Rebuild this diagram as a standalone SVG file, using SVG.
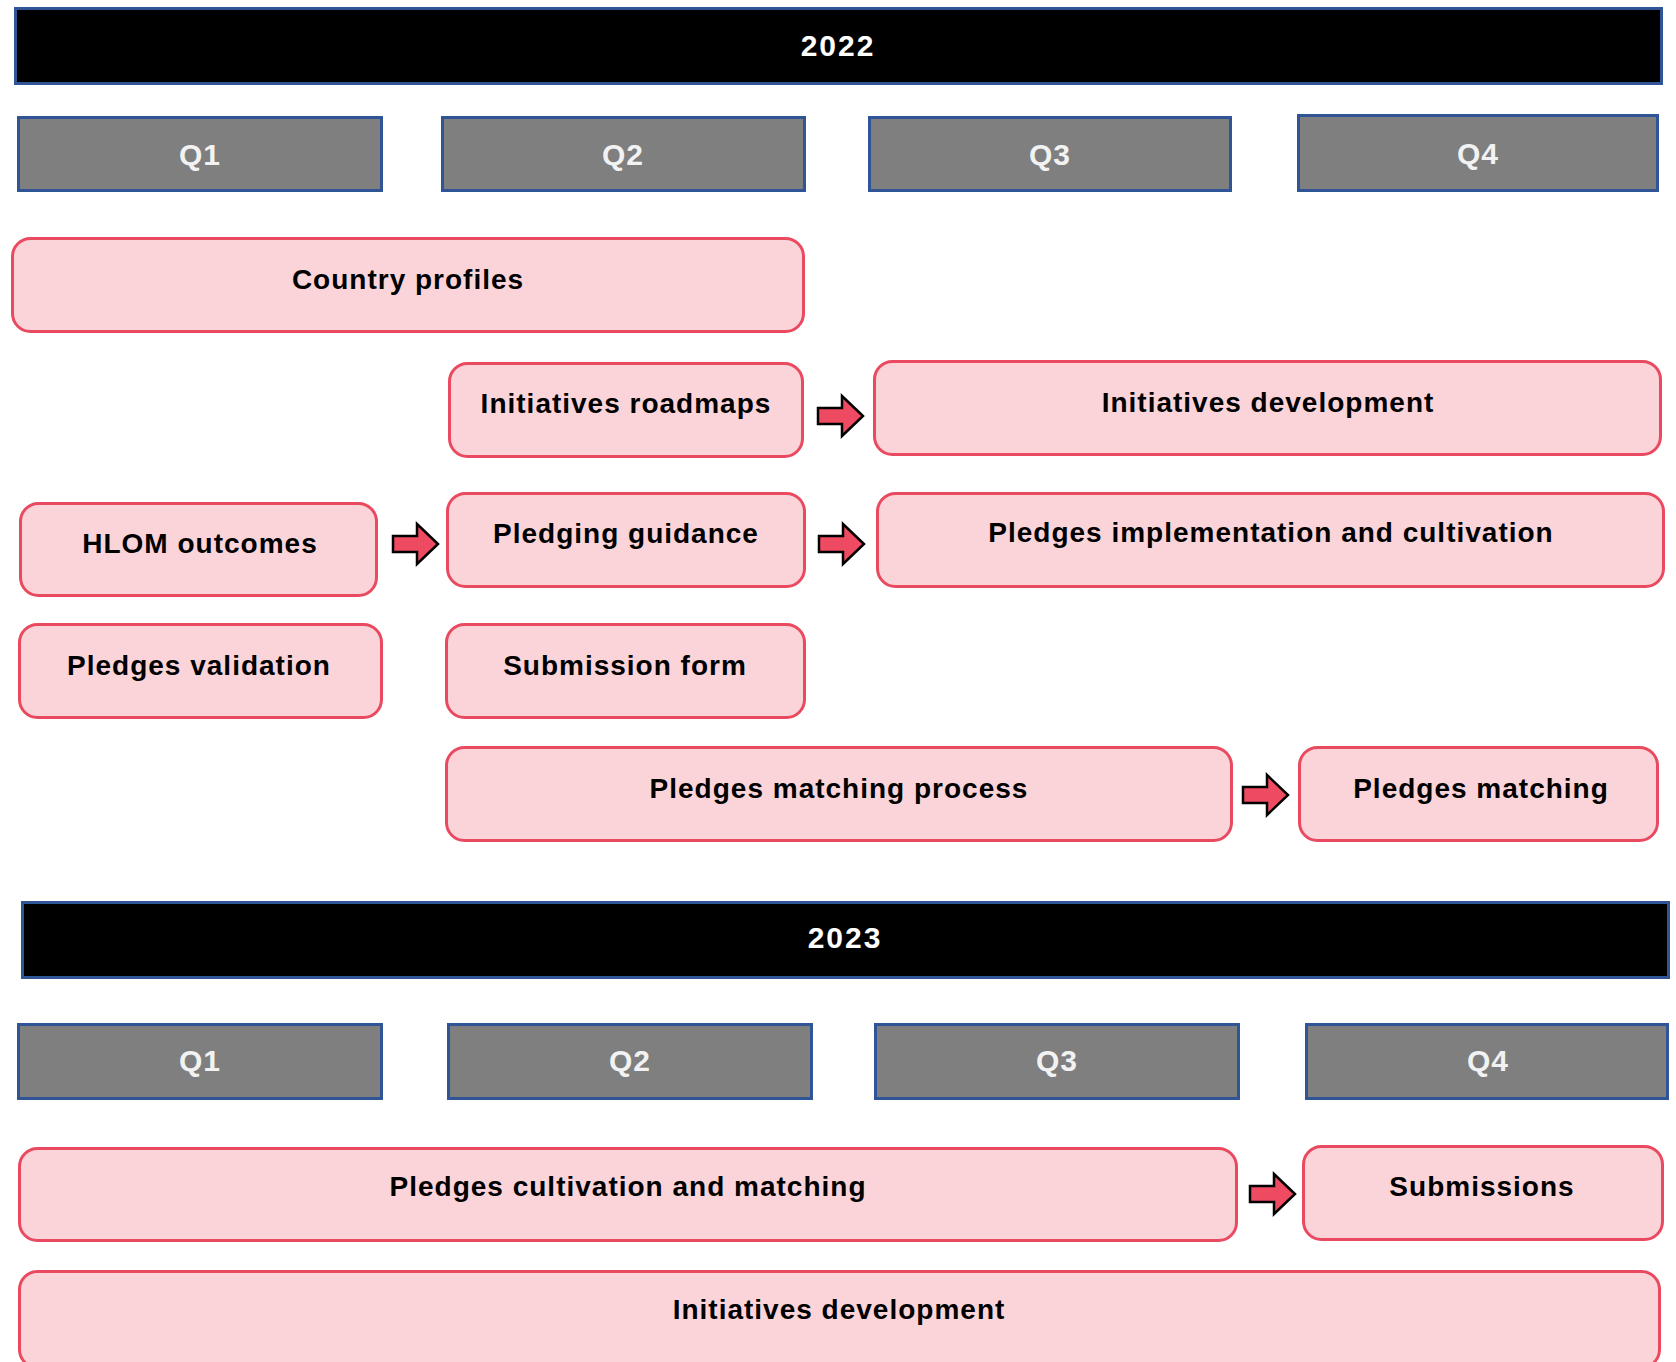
<svg xmlns="http://www.w3.org/2000/svg" xmlns:xlink="http://www.w3.org/1999/xlink" width="1676" height="1362" viewBox="0 0 1676 1362">
  <style>
    .year rect { fill: #000000; stroke: #2F5597; stroke-width: 3; }
    .year text { fill: #FFFFFF; font-family: "Liberation Sans", Arial, sans-serif; font-weight: bold; font-size: 30px; letter-spacing: 2px; text-anchor: middle; }
    .q rect { fill: #7F7F7F; stroke: #2F5597; stroke-width: 3; }
    .q text { fill: #F2F2F2; font-family: "Liberation Sans", Arial, sans-serif; font-weight: bold; font-size: 30px; letter-spacing: 1px; text-anchor: middle; }
    .task rect { fill: #FAD4D9; stroke: #EA4A60; stroke-width: 3; }
    .task text { fill: #000000; font-family: "Liberation Sans", Arial, sans-serif; font-weight: bold; font-size: 28px; letter-spacing: 1px; text-anchor: middle; }
    .arrow { fill: #EE4B62; stroke: #000000; stroke-width: 2.5; stroke-linejoin: miter; }
  </style>
  <defs>
    <path id="blockArrow" class="arrow" d="M0,-8 L24,-8 L24,-20 L45,0 L24,20 L24,8 L0,8 Z"/>
  </defs>
  <rect width="1676" height="1362" fill="#FFFFFF"/>

  <!-- 2022 -->
  <g id="year2022" class="year"><rect x="15.5" y="8.5" width="1646" height="75"/><text x="838" y="56">2022</text></g>
  <g id="q1-2022" class="q"><rect x="18.5" y="117.5" width="363" height="73"/><text x="200" y="165">Q1</text></g>
  <g id="q2-2022" class="q"><rect x="442.5" y="117.5" width="362" height="73"/><text x="623" y="165">Q2</text></g>
  <g id="q3-2022" class="q"><rect x="869.5" y="117.5" width="361" height="73"/><text x="1050" y="165">Q3</text></g>
  <g id="q4-2022" class="q"><rect x="1298.5" y="115.5" width="359" height="75"/><text x="1478" y="164">Q4</text></g>

  <g id="country-profiles" class="task"><rect x="12.5" y="238.5" width="791" height="93" rx="18"/><text x="408" y="289">Country profiles</text></g>
  <g id="initiatives-roadmaps" class="task"><rect x="449.5" y="363.5" width="353" height="93" rx="18"/><text x="626" y="413">Initiatives roadmaps</text></g>
  <g id="initiatives-development-2022" class="task"><rect x="874.5" y="361.5" width="786" height="93" rx="18"/><text x="1268" y="412">Initiatives development</text></g>
  <g id="hlom-outcomes" class="task"><rect x="20.5" y="503.5" width="356" height="92" rx="18"/><text x="200" y="553">HLOM outcomes</text></g>
  <g id="pledging-guidance" class="task"><rect x="447.5" y="493.5" width="357" height="93" rx="18"/><text x="626" y="543">Pledging guidance</text></g>
  <g id="pledges-implementation" class="task"><rect x="877.5" y="493.5" width="786" height="93" rx="18"/><text x="1271" y="542">Pledges implementation and cultivation</text></g>
  <g id="pledges-validation" class="task"><rect x="19.5" y="624.5" width="362" height="93" rx="18"/><text x="199" y="675">Pledges validation</text></g>
  <g id="submission-form" class="task"><rect x="446.5" y="624.5" width="358" height="93" rx="18"/><text x="625" y="675">Submission form</text></g>
  <g id="pledges-matching-process" class="task"><rect x="446.5" y="747.5" width="785" height="93" rx="18"/><text x="839" y="798">Pledges matching process</text></g>
  <g id="pledges-matching" class="task"><rect x="1299.5" y="747.5" width="358" height="93" rx="18"/><text x="1481" y="798">Pledges matching</text></g>

  <!-- 2023 -->
  <g id="year2023" class="year"><rect x="22.5" y="902.5" width="1646" height="75"/><text x="845" y="948">2023</text></g>
  <g id="q1-2023" class="q"><rect x="18.5" y="1024.5" width="363" height="74"/><text x="200" y="1071">Q1</text></g>
  <g id="q2-2023" class="q"><rect x="448.5" y="1024.5" width="363" height="74"/><text x="630" y="1071">Q2</text></g>
  <g id="q3-2023" class="q"><rect x="875.5" y="1024.5" width="363" height="74"/><text x="1057" y="1071">Q3</text></g>
  <g id="q4-2023" class="q"><rect x="1306.5" y="1024.5" width="361" height="74"/><text x="1488" y="1071">Q4</text></g>

  <g id="pledges-cultivation-matching" class="task"><rect x="19.5" y="1148.5" width="1217" height="92" rx="18"/><text x="628" y="1196">Pledges cultivation and matching</text></g>
  <g id="submissions" class="task"><rect x="1303.5" y="1146.5" width="359" height="93" rx="18"/><text x="1482" y="1196">Submissions</text></g>
  <g id="initiatives-development-2023" class="task"><rect x="19.5" y="1271.5" width="1640" height="96" rx="18"/><text x="839" y="1319">Initiatives development</text></g>

  <g id="connectors">
    <use xlink:href="#blockArrow" href="#blockArrow" x="818" y="416"/>
    <use xlink:href="#blockArrow" href="#blockArrow" x="393" y="544"/>
    <use xlink:href="#blockArrow" href="#blockArrow" x="819" y="544"/>
    <use xlink:href="#blockArrow" href="#blockArrow" x="1243" y="795"/>
    <use xlink:href="#blockArrow" href="#blockArrow" x="1250" y="1194"/>
  </g>
</svg>
